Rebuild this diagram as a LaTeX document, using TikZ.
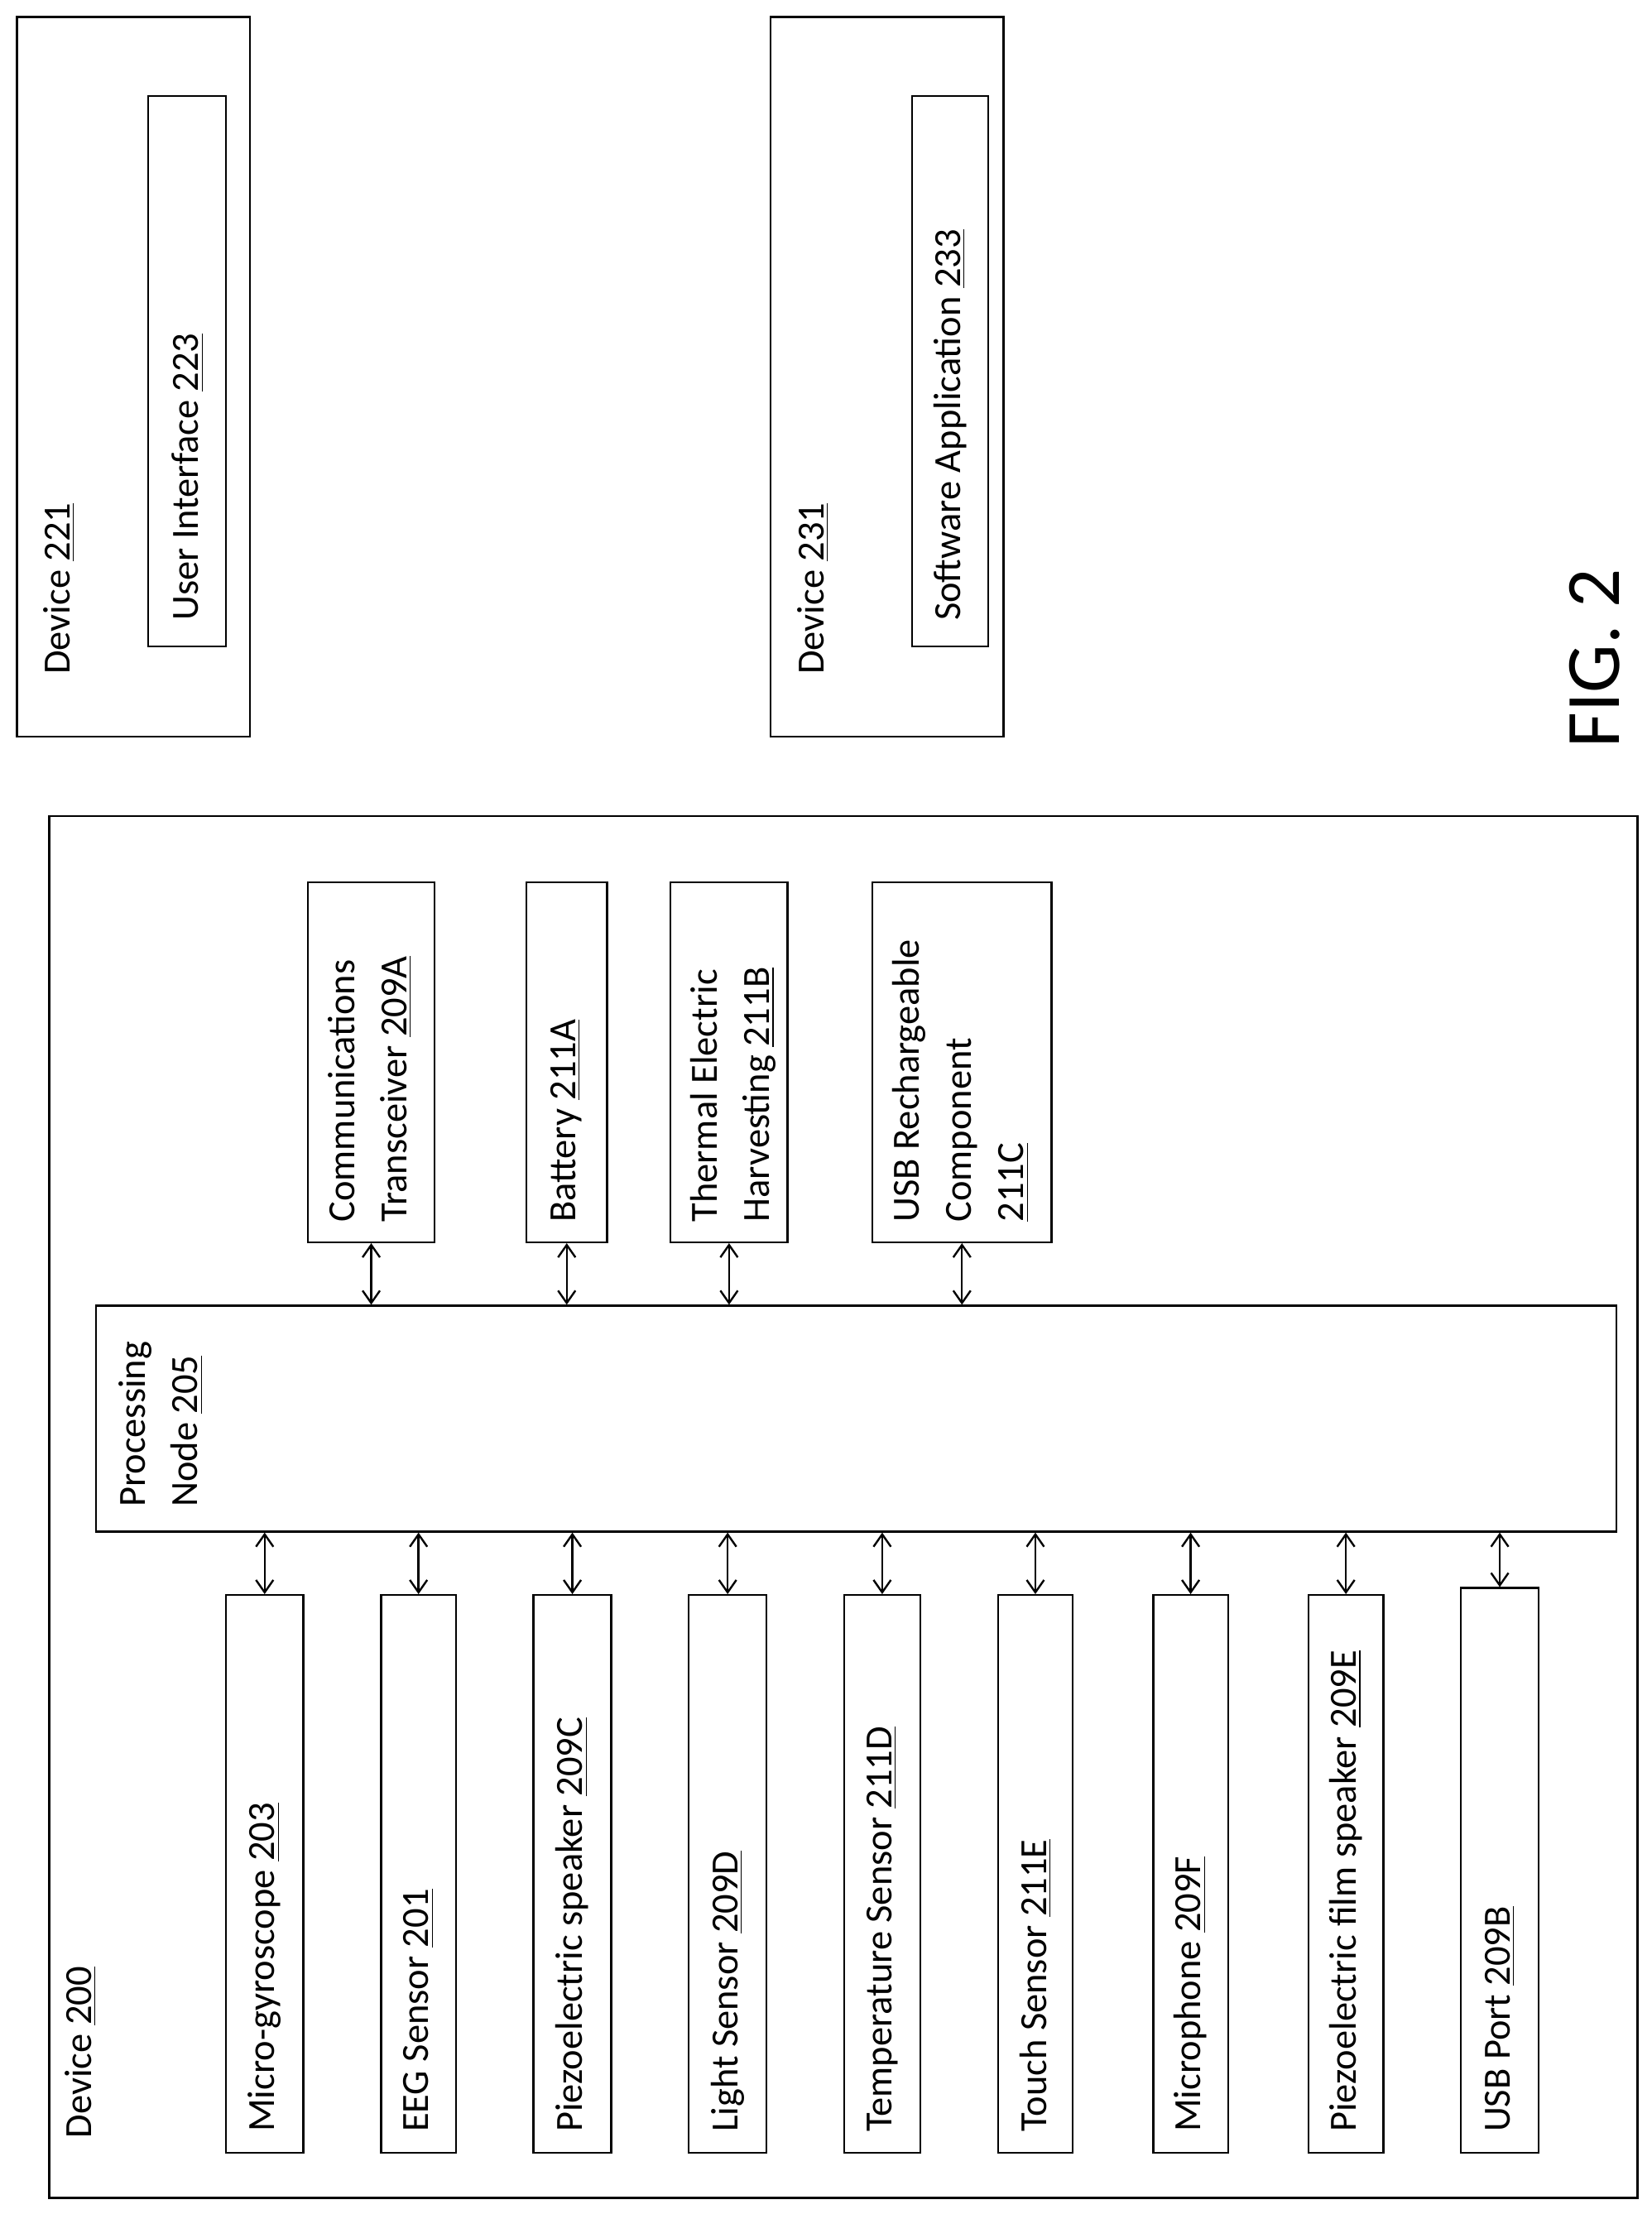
\documentclass[tikz,border=0pt]{standalone}
\usepackage{fontspec}
\setmainfont{Carlito}
\usetikzlibrary{arrows.meta}
\begin{document}
\def\u{0.2mm}
\begin{tikzpicture}[x=0.2mm,y=0.2mm,
  box/.style={draw,line width=0.8pt,inner sep=0pt},
  lab/.style={rotate=90,font=\fontsize{15.5}{21}\selectfont,inner sep=0pt,align=left},
  arr/.style={{Straight Barb[length=5pt,width=7pt]}-{Straight Barb[length=5pt,width=7pt]},line width=0.8pt}]
\useasboundingbox (0,0) rectangle (1170,-1572);
\newcommand{\bx}[5]{\node[box,minimum width={(#4-#2)*\u},minimum height={(#5-#3)*\u}] (#1) at ({(#2+#4)/2},{-(#3+#5)/2}) {};}
\bx{d221}{12}{12}{177}{522}
\bx{ui}{105}{68}{160}{458}
\bx{d231}{546}{12}{711}{522}
\bx{sa}{646}{68}{700}{458}
\node[lab,anchor=west] at (42,-478) {Device \underline{221}};
\node[lab,anchor=west] at (133,-440) {User Interface \underline{223}};
\node[lab,anchor=west] at (576,-478) {Device \underline{231}};
\node[lab,anchor=west] at (673,-440) {Software Application \underline{233}};
\node[rotate=90,font=\fontsize{31}{31}\selectfont,anchor=west,inner sep=0pt] (fig) at (1130,-530) {FIG. 2};
\bx{d200}{35}{578}{1160}{1557}
\node[lab,anchor=west] at (57,-1515) {Device \underline{200}};
\bx{ct}{218}{625}{308}{880}
\bx{bat}{373}{625}{430}{880}
\bx{teh}{475}{625}{558}{880}
\bx{usbr}{618}{625}{745}{880}
\node[lab,anchor=north west] at (232,-866) {Communications\\Transceiver \underline{209A}};
\node[lab,anchor=west] at (401,-866) {Battery \underline{211A}};
\node[lab,anchor=north west] at (489,-866) {Thermal Electric\\Harvesting \underline{211B}};
\node[lab,anchor=north west] at (632,-866) {USB Rechargeable\\Component\\\underline{211C}};
\bx{pn}{68}{925}{1145}{1085}
\node[lab,anchor=north west] at (84,-1068) {Processing\\Node \underline{205}};
\foreach \n in {ct,bat,teh,usbr}{\draw[arr] (\n.south) -- (\n.south |- pn.north);}
\bx{mg}{160}{1130}{215}{1525}
\bx{eeg}{270}{1130}{323}{1525}
\bx{ps}{378}{1130}{433}{1525}
\bx{ls}{488}{1130}{543}{1525}
\bx{ts}{598}{1130}{652}{1525}
\bx{tch}{707}{1130}{760}{1525}
\bx{mic}{817}{1130}{870}{1525}
\bx{pfs}{927}{1130}{980}{1525}
\bx{usbp}{1035}{1125}{1090}{1525}
\foreach \n/\t in {mg/{Micro-gyroscope \underline{203}},eeg/{EEG Sensor \underline{201}},ps/{Piezoelectric speaker \underline{209C}},ls/{Light Sensor \underline{209D}},ts/{Temperature Sensor \underline{211D}},tch/{Touch Sensor \underline{211E}},mic/{Microphone \underline{209F}},pfs/{Piezoelectric film speaker \underline{209E}},usbp/{USB Port \underline{209B}}}{
  \node[lab,anchor=west] at ([yshift=15*\u]\n.south) {\t};
  \draw[arr] (\n.north) -- (\n.north |- pn.south);}
\end{tikzpicture}
\end{document}
